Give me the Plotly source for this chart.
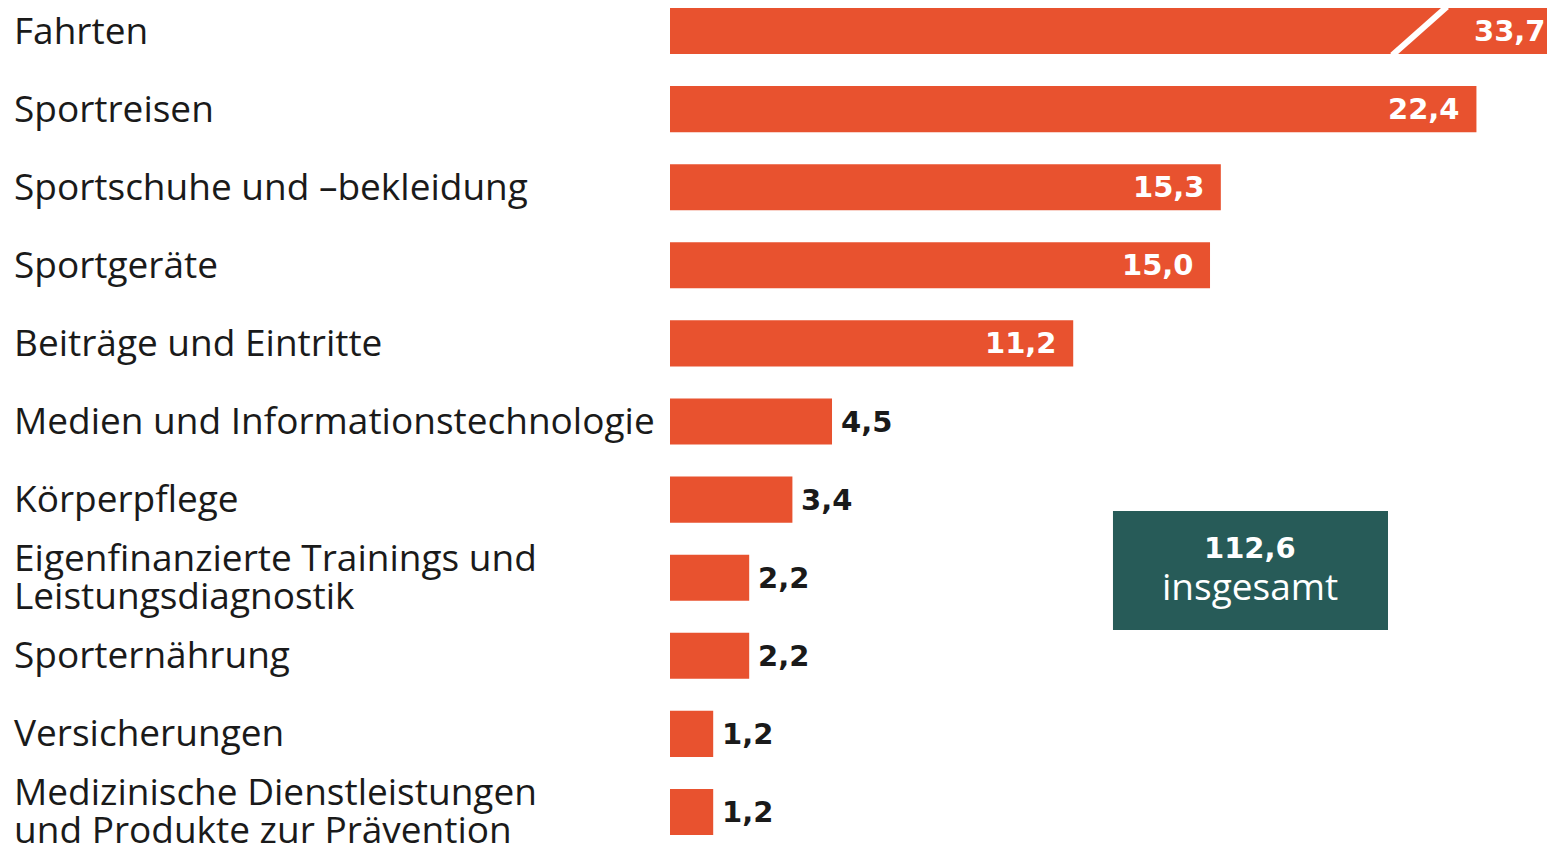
import plotly.graph_objects as go

CATEGORIES = [
    "Fahrten",
    "Sportreisen",
    "Sportschuhe und –bekleidung",
    "Sportgeräte",
    "Beiträge und Eintritte",
    "Medien und Informationstechnologie",
    "Körperpflege",
    "Eigenfinanzierte Trainings und<br>Leistungsdiagnostik",
    "Sporternährung",
    "Versicherungen",
    "Medizinische Dienstleistungen<br>und Produkte zur Prävention",
]
VALUES = [33.7, 22.4, 15.3, 15.0, 11.2, 4.5, 3.4, 2.2, 2.2, 1.2, 1.2]
VALUE_LABELS = ["33,7", "22,4", "15,3", "15,0", "11,2", "4,5", "3,4", "2,2", "2,2", "1,2", "1,2"]
TOTAL_LABEL = "112,6"
TOTAL_TEXT = "insgesamt"

BAR_COLOR = "#E8522F"
BOX_COLOR = "#275B58"
TEXT_COLOR = "#1A1A1A"
LABEL_FONT = "Open Sans"
NUM_FONT = "DejaVu Sans"

X_MAX = 24.36          # axis cut-off; the first bar runs past it
INSIDE_MIN = 10        # values above this get their label inside the bar
LINE_GAP = 19          # half the line spacing of two-line labels, px

pos = list(range(len(CATEGORIES)))

fig = go.Figure()
fig.add_bar(
    x=VALUES,
    y=pos,
    orientation="h",
    width=0.59,
    marker_color=BAR_COLOR,
    marker_line_width=0,
    hoverinfo="skip",
)

# category labels, left aligned in the margin (one annotation per line
# so the line spacing stays tight)
for p, cat in zip(pos, CATEGORIES):
    lines = cat.split("<br>")
    n = len(lines)
    for i, line in enumerate(lines):
        fig.add_annotation(
            x=-658 / 877, xref="paper", xanchor="left",
            y=p, yref="y", yanchor="middle",
            yshift=LINE_GAP * (n - 1 - 2 * i) + 2,
            text=line, showarrow=False, align="left",
            font=dict(family=LABEL_FONT, size=37, color=TEXT_COLOR),
        )

# value labels
for p, v, lab in zip(pos, VALUES, VALUE_LABELS):
    inside = v > INSIDE_MIN
    clipped = v > X_MAX
    fig.add_annotation(
        x=min(v, X_MAX), y=p, yanchor="middle",
        xanchor="right" if inside else "left",
        xshift=(1 if clipped else -14) if inside else 7,
        text=f"<b>{lab}</b>", showarrow=False,
        font=dict(family=NUM_FONT, size=29,
                  color="white" if inside else TEXT_COLOR),
    )

# break mark on the clipped first bar
fig.add_shape(
    type="line", x0=20.06, x1=21.58, y0=0.31, y1=-0.31,
    line=dict(color="white", width=6), layer="above",
)

# total box
fig.add_shape(
    type="rect", xref="paper", yref="paper",
    x0=0.5051, x1=0.8187, y0=0.2527, y1=0.3938,
    fillcolor=BOX_COLOR, line_width=0, layer="above",
)
fig.add_annotation(
    x=0.6619, xref="paper", y=0.3499, yref="paper", yanchor="middle",
    text=f"<b>{TOTAL_LABEL}</b>", showarrow=False,
    font=dict(family=NUM_FONT, size=29, color="white"),
)
fig.add_annotation(
    x=0.6619, xref="paper", y=0.3049, yref="paper", yanchor="middle",
    text=TOTAL_TEXT, showarrow=False,
    font=dict(family=LABEL_FONT, size=37, color="white"),
)

fig.update_layout(
    width=1547, height=843,
    margin=dict(l=670, r=0, t=0, b=0),
    plot_bgcolor="white", paper_bgcolor="white",
    showlegend=False,
    xaxis=dict(range=[0, X_MAX], visible=False, fixedrange=True),
    yaxis=dict(range=[10.397, -0.397], visible=False, fixedrange=True),
)

# drop the default body margin so the figure fills the window exactly
fig.write_html(
    "out.html",
    config={"displayModeBar": False},
    post_script="document.body.style.margin='0';document.body.style.overflow='hidden';",
)
